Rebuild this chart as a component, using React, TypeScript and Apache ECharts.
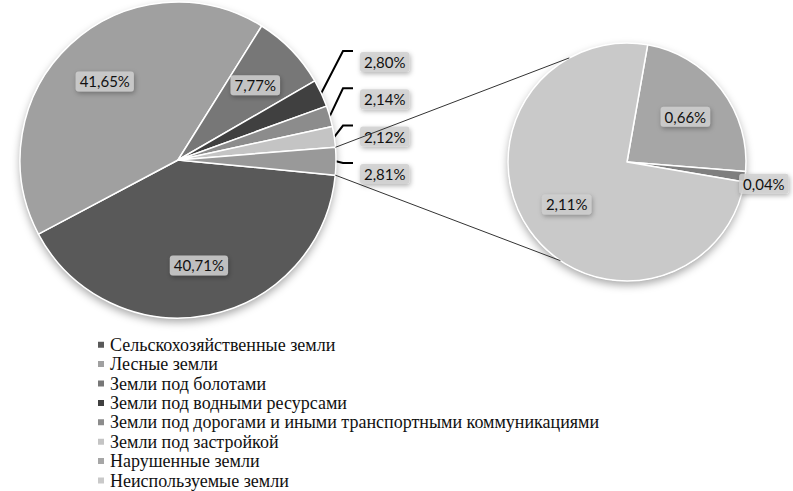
import React, { useEffect, useRef } from "react";
import * as echarts from "echarts";

// ---- data ----
const categories = [
  "Сельскохозяйственные земли",
  "Лесные земли",
  "Земли под болотами",
  "Земли под водными ресурсами",
  "Земли под дорогами и иными транспортными коммуникациями",
  "Земли под застройкой",
  "Нарушенные земли",
  "Неиспользуемые земли",
];
const mainValues = [40.71, 41.65, 7.77, 2.8, 2.14, 2.12];
const otherName = "Прочие";
const otherValue = 2.81;
const secondaryNames = ["Нарушенные земли", "Прочие земли", "Неиспользуемые земли"];
const secondaryValues = [0.66, 0.04, 2.11];

// ---- style ----
const mainColors = ["#595959", "#a0a0a0", "#777777", "#404040", "#8c8c8c", "#c4c4c4"];
const otherColor = "#999999";
const secondaryColors = ["#a6a6a6", "#7f7f7f", "#c9c9c9"];

const W = 793;
const H = 491;
const MC = [178, 160];
const MR = 158;
const MAIN_START = 354.5;
const SC = [627, 162];
const SR = 119;
const SEC_START = 80;
const OUT_X = 360;
const OUT_TOP = 62;
const OUT_STEP = 37.3;
const BR_X = 343;
const CONN_TOP_ANGLE = 119;
const CONN_BOTTOM_ANGLE = -124;
const RAD = Math.PI / 180;

function midAngles(values: number[], start: number) {
  const sum = values.reduce((a, b) => a + b, 0);
  let cur = start;
  return values.map((v) => {
    const span = (v / sum) * 360;
    const mid = cur - span / 2;
    cur -= span;
    return mid;
  });
}
function pt(c: number[], r: number, deg: number) {
  return [c[0] + Math.cos(deg * RAD) * r, c[1] - Math.sin(deg * RAD) * r];
}
const fmt = (v: number) => v.toFixed(2).replace(".", ",") + "%";

const labelBox = {
  fontFamily: "Lato",
  fontSize: 15,
  color: "#111",
  backgroundColor: "rgba(208,208,208,0.85)",
  padding: [3, 4, 2, 4],
  borderRadius: 3,
  shadowBlur: 5,
  shadowColor: "rgba(0,0,0,0.35)",
  shadowOffsetX: 1,
  shadowOffsetY: 2,
};

export default function App() {
  const ref = useRef<HTMLDivElement>(null);
  useEffect(() => {
    if (!ref.current) return;
    const chart = echarts.init(ref.current, undefined, { renderer: "svg" });

    const allMain = [...mainValues, otherValue];
    const mainSum = allMain.reduce((a, b) => a + b, 0);
    const secSum = secondaryValues.reduce((a, b) => a + b, 0);
    const mainMid = midAngles(allMain, MAIN_START);
    const secMid = midAngles(secondaryValues, SEC_START);
    const otherSpan = (otherValue / mainSum) * 360;

    const mainData = [
      ...mainValues.map((v, i) => ({
        name: categories[i],
        value: v,
        itemStyle: { color: mainColors[i] },
        label: { position: i < 3 ? "inside" : "outside" },
        labelLine: { show: i >= 3 },
      })),
      {
        name: otherName,
        value: otherValue,
        itemStyle: { color: otherColor },
        label: { position: "outside" },
        labelLine: { show: true },
      },
    ];

    const secData = secondaryValues.map((v, i) => ({
      name: secondaryNames[i],
      value: v,
      itemStyle: { color: secondaryColors[i] },
      label: { position: i === 1 ? "outside" : "inside" },
      labelLine: { show: false },
    }));

    const topStart = pt(MC, MR, MAIN_START + otherSpan);
    const botStart = pt(MC, MR, MAIN_START);
    const topEnd = pt(SC, SR, CONN_TOP_ANGLE);
    const botEnd = pt(SC, SR, CONN_BOTTOM_ANGLE);

    const shadowPie = (center: number[], r: number, sum: number) => ({
      type: "pie",
      center,
      radius: r,
      silent: true,
      z: 1,
      label: { show: false },
      labelLine: { show: false },
      data: [
        {
          name: "__shadow",
          value: sum,
          itemStyle: {
            color: "#ffffff",
            shadowBlur: 8,
            shadowOffsetY: 4,
            shadowColor: "rgba(0,0,0,0.35)",
          },
        },
      ],
    });

    chart.setOption({
      animation: false,
      backgroundColor: "#ffffff",
      legend: {
        data: categories,
        orient: "vertical",
        left: 96,
        top: 335,
        padding: 0,
        itemGap: 0,
        itemWidth: 8,
        itemHeight: 8,
        icon: "rect",
        selectedMode: false,
        textStyle: {
          fontFamily: "Liberation Serif",
          fontSize: 18,
          lineHeight: 19.4,
          color: "#111",
        },
      },
      graphic: [
        {
          type: "line",
          shape: { x1: topStart[0], y1: topStart[1], x2: topEnd[0], y2: topEnd[1] },
          style: { stroke: "#333", lineWidth: 1 },
          z: 10,
        },
        {
          type: "line",
          shape: { x1: botStart[0], y1: botStart[1], x2: botEnd[0], y2: botEnd[1] },
          style: { stroke: "#333", lineWidth: 1 },
          z: 10,
        },
      ],
      series: [
        shadowPie(MC, MR, mainSum),
        shadowPie(SC, SR, secSum),
        {
          type: "pie",
          center: MC,
          radius: MR,
          startAngle: MAIN_START,
          clockwise: true,
          avoidLabelOverlap: false,
          silent: true,
          z: 2,
          data: mainData,
          itemStyle: { borderColor: "#ffffff", borderWidth: 1.5 },
          label: {
            show: true,
            formatter: (p: any) => fmt(p.value),
            ...labelBox,
          },
          labelLine: { lineStyle: { color: "#000", width: 2 }, length: 10, length2: 10 },
          labelLayout: (p: any) => {
            const i = p.dataIndex;
            if (i < 3) {
              const q = pt(MC, MR * 0.68, mainMid[i]);
              return { x: q[0], y: q[1], align: "center", verticalAlign: "middle" };
            }
            const k = i - 3;
            const ly = OUT_TOP + k * OUT_STEP;
            const e = pt(MC, MR, mainMid[i]);
            return {
              x: OUT_X,
              y: ly,
              align: "left",
              verticalAlign: "middle",
              labelLinePoints: [
                [e[0], e[1]],
                [BR_X, ly - 11],
                [BR_X + 10, ly - 11],
              ],
            };
          },
        },
        {
          type: "pie",
          center: SC,
          radius: SR,
          startAngle: SEC_START,
          clockwise: true,
          avoidLabelOverlap: false,
          silent: true,
          z: 2,
          data: secData,
          itemStyle: { borderColor: "#ffffff", borderWidth: 1.5 },
          label: {
            show: true,
            formatter: (p: any) => fmt(p.value),
            ...labelBox,
          },
          labelLayout: (p: any) => {
            const i = p.dataIndex;
            if (i === 1) {
              const e = pt(SC, SR, secMid[i]);
              return { x: e[0] - 6, y: e[1] + 7, align: "left", verticalAlign: "middle" };
            }
            const q = pt(SC, SR * 0.62, secMid[i]);
            return { x: q[0], y: q[1], align: "center", verticalAlign: "middle" };
          },
        },
      ],
    });
    return () => chart.dispose();
  }, []);
  return (
    <div
      ref={ref}
      style={{ position: "absolute", left: 0, top: 0, width: W, height: H, background: "#fff" }}
    />
  );
}
